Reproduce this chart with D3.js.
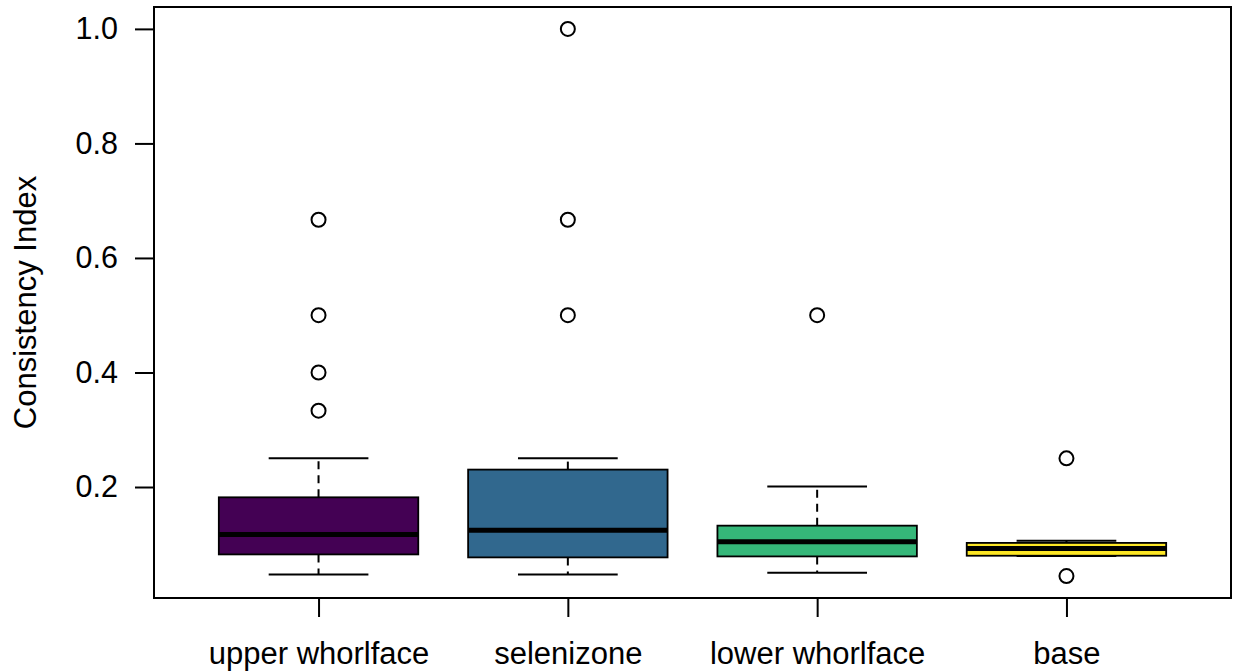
<!DOCTYPE html>
<html>
<head>
<meta charset="utf-8">
<script src="https://cdn.jsdelivr.net/npm/d3@7"></script>
<style>
  html, body { margin: 0; padding: 0; background: #fff; }
  svg { display: block; font-family: "Liberation Sans", Arial, sans-serif; }
</style>
</head>
<body>
<svg id="chart" width="1233" height="672"></svg>
<script>
// Box statistics per shell region (consistency index)
const categories   = ["upper whorlface", "selenizone", "lower whorlface", "base"];
const whiskerLow   = [0.0474, 0.0474, 0.0503, 0.0797];
const q1           = [0.0823, 0.0771, 0.0788, 0.0800];
const medians      = [0.1170, 0.1247, 0.1042, 0.0925];
const q3           = [0.1820, 0.2304, 0.1325, 0.1024];
const whiskerHigh  = [0.2500, 0.2500, 0.2007, 0.1060];
const outliers     = [
  [0.6667, 0.5, 0.4, 0.3333],
  [1.0, 0.6667, 0.5],
  [0.5],
  [0.25, 0.0444]
];
const fills        = ["#440154", "#31688E", "#35B779", "#FDE725"];
const yTicks       = [0.2, 0.4, 0.6, 0.8, 1.0];

const svg = d3.select("#chart");
const plot = { left: 154, top: 7, right: 1231, bottom: 598 };

// y range padded by 4% on each side of the data extent
const allVals = whiskerLow.concat(whiskerHigh, outliers.flat());
const yMin = d3.min(allVals), yMax = d3.max(allVals);
const pad = (yMax - yMin) * 0.04;
const y = d3.scaleLinear().domain([yMin - pad, yMax + pad]).range([plot.bottom, plot.top]);

// box positions 1..n, x range padded the same way
const n = categories.length;
const xPad = n * 0.04;
const x = d3.scaleLinear().domain([0.5 - xPad, n + 0.5 + xPad]).range([plot.left, plot.right]);
const boxHalf = 0.4, capHalf = 0.2;

const data = categories.map((c, i) => ({
  name: c, pos: i + 1, lo: whiskerLow[i], q1: q1[i], med: medians[i],
  q3: q3[i], hi: whiskerHigh[i], out: outliers[i], fill: fills[i]
}));

const g = svg.append("g");
const groups = g.selectAll("g.box").data(data).enter().append("g").attr("class", "box");

// dashed whiskers from box edges out to the caps
groups.append("line")
  .attr("x1", d => x(d.pos)).attr("x2", d => x(d.pos))
  .attr("y1", d => y(d.q3)).attr("y2", d => y(d.hi))
  .attr("stroke", "#000").attr("stroke-width", 2).attr("stroke-dasharray", "8,6");
groups.append("line")
  .attr("x1", d => x(d.pos)).attr("x2", d => x(d.pos))
  .attr("y1", d => y(d.q1)).attr("y2", d => y(d.lo))
  .attr("stroke", "#000").attr("stroke-width", 2).attr("stroke-dasharray", "8,6");

// whisker caps
["hi", "lo"].forEach(k => {
  groups.append("line")
    .attr("x1", d => x(d.pos - capHalf)).attr("x2", d => x(d.pos + capHalf))
    .attr("y1", d => y(d[k])).attr("y2", d => y(d[k]))
    .attr("stroke", "#000").attr("stroke-width", 2);
});

// boxes
groups.append("rect")
  .attr("x", d => x(d.pos - boxHalf))
  .attr("width", d => x(d.pos + boxHalf) - x(d.pos - boxHalf))
  .attr("y", d => y(d.q3))
  .attr("height", d => y(d.q1) - y(d.q3))
  .attr("fill", d => d.fill)
  .attr("stroke", "#000").attr("stroke-width", 1.8);

// medians
groups.append("line")
  .attr("x1", d => x(d.pos - boxHalf)).attr("x2", d => x(d.pos + boxHalf))
  .attr("y1", d => y(d.med)).attr("y2", d => y(d.med))
  .attr("stroke", "#000").attr("stroke-width", 5);

// outliers
groups.selectAll("circle").data(d => d.out.map(v => ({ pos: d.pos, v })))
  .enter().append("circle")
  .attr("cx", d => x(d.pos)).attr("cy", d => y(d.v)).attr("r", 7)
  .attr("fill", "none").attr("stroke", "#000").attr("stroke-width", 2);

// frame
svg.append("rect")
  .attr("x", plot.left).attr("y", plot.top)
  .attr("width", plot.right - plot.left).attr("height", plot.bottom - plot.top)
  .attr("fill", "none").attr("stroke", "#000").attr("stroke-width", 2);

// y axis
const yAxis = svg.append("g")
  .attr("transform", `translate(${plot.left},0)`)
  .call(d3.axisLeft(y).tickValues(yTicks).tickFormat(d3.format(".1f"))
    .tickSize(19).tickSizeOuter(0).tickPadding(17));
yAxis.select(".domain").remove();
yAxis.selectAll(".tick line").attr("stroke", "#000").attr("stroke-width", 2);
yAxis.selectAll(".tick text").attr("fill", "#000")
  .style("font-size", "30.5px").style("font-family", "'Liberation Sans', Arial, sans-serif");

// x axis
const xAxis = svg.append("g")
  .attr("transform", `translate(0,${plot.bottom})`)
  .call(d3.axisBottom(x).tickValues(data.map(d => d.pos))
    .tickFormat(p => categories[p - 1]).tickSize(19).tickSizeOuter(0).tickPadding(25));
xAxis.select(".domain").remove();
xAxis.selectAll(".tick line").attr("stroke", "#000").attr("stroke-width", 2);
xAxis.selectAll(".tick text").attr("fill", "#000")
  .style("font-size", "31px").style("font-family", "'Liberation Sans', Arial, sans-serif");

// y axis title
svg.append("text")
  .attr("transform", `translate(36,${(plot.top + plot.bottom) / 2}) rotate(-90)`)
  .attr("text-anchor", "middle")
  .style("font-size", "31px")
  .attr("fill", "#000")
  .text("Consistency Index");
</script>
</body>
</html>
